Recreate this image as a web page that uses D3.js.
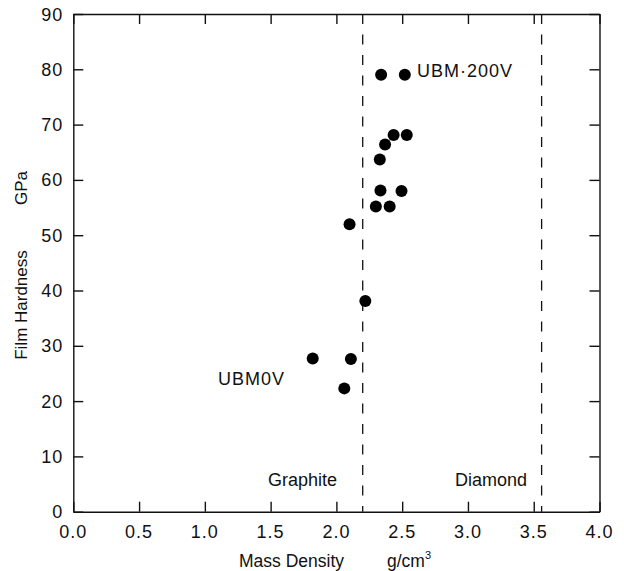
<!DOCTYPE html>
<html>
<head>
<meta charset="utf-8">
<script src="https://cdn.jsdelivr.net/npm/d3@7/dist/d3.min.js"></script>
<style>
  body { margin: 0; background: #fff; }
  text { font-family: Arial, "Liberation Sans", sans-serif; fill: #111; }
</style>
</head>
<body>
<svg id="chart" width="624" height="571"></svg>
<script>
// data
const density = [2.34, 2.52, 2.435, 2.535, 2.37, 2.33, 2.335, 2.495, 2.30, 2.405, 2.10, 2.22, 1.82, 2.11, 2.06];
const hardness = [79.0, 79.0, 68.1, 68.1, 66.4, 63.7, 58.1, 58.0, 55.2, 55.2, 52.0, 38.1, 27.7, 27.6, 22.3];
const xTicks = [0, 0.5, 1, 1.5, 2, 2.5, 3, 3.5, 4];
const yTicks = [0, 10, 20, 30, 40, 50, 60, 70, 80, 90];
const refLines = [2.2, 3.56];
const refNames = ["Graphite", "Diamond"];

const svg = d3.select("#chart");
const margin = {left: 73.3, right: 624 - 599.5, top: 14, bottom: 571 - 511.7};
const W = 624, H = 571;

const x = d3.scaleLinear().domain([0, 4]).range([margin.left, W - margin.right]);
const y = d3.scaleLinear().domain([0, 90]).range([H - margin.bottom, margin.top]);

const tickLen = 10;
const fontSize = 18;

// frame with inward ticks on all four sides
const axB = d3.axisBottom(x).tickValues(xTicks).tickSizeInner(-tickLen).tickSizeOuter(0).tickFormat("");
const axT = d3.axisTop(x).tickValues(xTicks).tickSizeInner(-tickLen).tickSizeOuter(0).tickFormat("");
const axL = d3.axisLeft(y).tickValues(yTicks).tickSizeInner(-tickLen).tickSizeOuter(0).tickFormat("");
const axR = d3.axisRight(y).tickValues(yTicks).tickSizeInner(-tickLen).tickSizeOuter(0).tickFormat("");

svg.append("g").attr("transform", `translate(0,${y(0)})`).call(axB);
svg.append("g").attr("transform", `translate(0,${y(90)})`).call(axT);
svg.append("g").attr("transform", `translate(${x(0)},0)`).call(axL);
svg.append("g").attr("transform", `translate(${x(4)},0)`).call(axR);
svg.selectAll(".domain, .tick line").attr("stroke", "#111").attr("stroke-width", 1.4);

// tick labels
svg.append("g").selectAll("text").data(xTicks).join("text")
  .attr("x", d => x(d)).attr("y", y(0) + 26)
  .attr("text-anchor", "middle").style("font-size", fontSize + "px")
  .style("letter-spacing", "1px")
  .text(d => d3.format(".1f")(d));

svg.append("g").selectAll("text").data(yTicks).join("text")
  .attr("x", x(0) - 10).attr("y", d => y(d) + 6.5)
  .attr("text-anchor", "end").style("font-size", fontSize + "px")
  .style("letter-spacing", "1px")
  .text(d => d);

// reference lines
svg.append("g").selectAll("line").data(refLines).join("line")
  .attr("x1", d => x(d)).attr("x2", d => x(d))
  .attr("y1", y(90)).attr("y2", y(0))
  .attr("stroke", "#111").attr("stroke-width", 1.3)
  .attr("stroke-dasharray", "10,10.5");

svg.append("text").attr("x", 268).attr("y", 485.5)
  .style("font-size", "18px").text(refNames[0]);
svg.append("text").attr("x", 455).attr("y", 485.5)
  .style("font-size", "18px").text(refNames[1]);

// points
svg.append("g").selectAll("circle").data(density).join("circle")
  .attr("cx", d => x(d)).attr("cy", (d, i) => y(hardness[i]))
  .attr("r", 6).attr("fill", "#000");

// annotations
svg.append("text").attr("x", 417).attr("y", 77).style("font-size", "18px")
  .style("letter-spacing", "1px").text("UBM\u00b7200V");
svg.append("text").attr("x", 218).attr("y", 384.5).style("font-size", "18px")
  .style("letter-spacing", "1px").text("UBM0V");

// axis titles
const xt = svg.append("text").attr("x", 239).attr("y", 567).style("font-size", "17.5px");
xt.append("tspan").text("Mass Density");
xt.append("tspan").attr("x", 387).text("g/cm");
xt.append("tspan").attr("dy", -8).style("font-size", "11px").text("3");

svg.append("text").attr("transform", `translate(27,305) rotate(-90)`)
  .attr("text-anchor", "middle").style("font-size", "17px").text("Film Hardness");
svg.append("text").attr("transform", `translate(27,188) rotate(-90)`)
  .attr("text-anchor", "middle").style("font-size", "17px").text("GPa");
</script>
</body>
</html>
